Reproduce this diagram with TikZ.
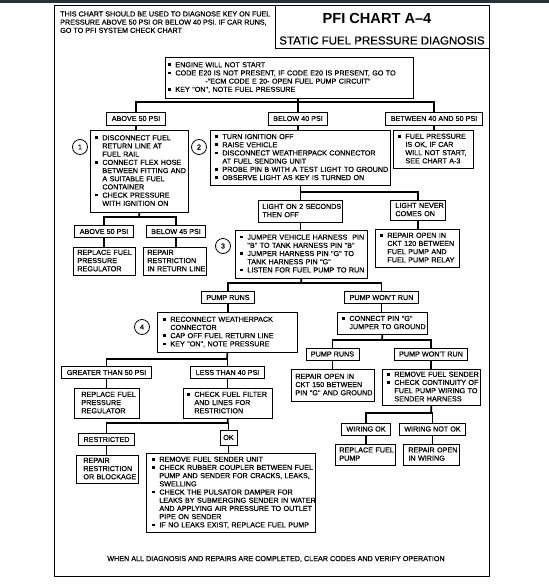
\documentclass[tikz,border=0pt]{standalone}
\usepackage{fontspec}
\setmainfont{Liberation Sans}
\newfontfamily\scan{Liberation Sans}[FakeBold=0.5]
\newcommand\fsz{\scan\fontsize{7.2}{8.2}\selectfont}
\newcommand\bul{\makebox[7pt][l]{\raisebox{1.2pt}{\rule{2.6pt}{2.6pt}}}}
\newcommand\indt{\hspace*{7pt}}
\newcommand\tbl[1]{\begin{tabular}{@{}l@{}}#1\end{tabular}}
\definecolor{band}{RGB}{40,48,58}
\begin{document}
\begin{tikzpicture}[x=1pt,y=-1pt,
  conn/.style={line width=1.7pt},
  tbox/.style={draw, line width=0.8pt, anchor=north west, inner ysep=0pt, align=left, font=\fsz},
  lbl/.style={draw, line width=0.8pt, inner xsep=5pt, inner ysep=0pt, minimum height=12pt, font=\fsz},
  num/.style={draw, circle, line width=0.8pt, minimum size=15pt, inner sep=0pt, font=\fsz}]
\useasboundingbox (0,0) rectangle (549,584);
\fill[white] (0,0) rectangle (549,584);
\fill[band] (0,0) rectangle (549,2.5);
% frame and title
\draw[line width=0.9pt] (54,5) rectangle (489,576);
\node[draw, line width=0.8pt, anchor=north west, minimum width=214pt, minimum height=43pt, inner sep=0pt] (tbox) at (275,5) {};
\node[font=\bfseries\fontsize{14.6}{16}\selectfont, inner sep=0pt] (title) at (377,18) {PFI CHART A--4};
\node[font=\scan\fontsize{11.5}{13}\selectfont, inner sep=0pt] (sub) at (382,40.5) {STATIC FUEL PRESSURE DIAGNOSIS};
\node[anchor=north west, inner sep=0pt, font=\fsz] (hdr) at (60,10.5) {\tbl{THIS CHART SHOULD BE USED TO DIAGNOSE KEY ON FUEL\\PRESSURE ABOVE 50 PSI OR BELOW 40 PSI. IF CAR RUNS,\\GO TO PFI SYSTEM CHECK CHART}};
% top box
\node[tbox, inner xsep=3pt, text width=242pt, minimum height=41pt] (top) at (165,57) {\tbl{\bul ENGINE WILL NOT START\\\bul CODE E20 IS NOT PRESENT, IF CODE E20 IS PRESENT, GO TO\\\hspace*{37pt}-"ECM CODE E 20- OPEN FUEL PUMP CIRCUIT"\\\bul KEY "ON", NOTE FUEL PRESSURE}};
% first row labels
\node[lbl, minimum height=13pt] (a50) at (136,118.5) {ABOVE 50 PSI};
\node[lbl, minimum height=13pt] (bel40) at (298,118.5) {BELOW 40 PSI};
\node[lbl, minimum height=13pt] (b4050) at (434,118.5) {BETWEEN 40 AND 50 PSI};
\coordinate (j1) at (298,102);
\draw[conn] (top.south -| j1) -- (bel40.north);
\draw[conn] (a50.north) |- (j1) -| (b4050.north);
% second row
\node[tbox, inner xsep=5pt, text width=88pt, minimum height=82pt] (box1) at (90,130) {\tbl{\bul DISCONNECT FUEL\\\indt RETURN LINE AT\\\indt FUEL RAIL\\\bul CONNECT FLEX HOSE\\\indt BETWEEN FITTING AND\\\indt A SUITABLE FUEL\\\indt CONTAINER\\\bul CHECK PRESSURE\\\indt WITH IGNITION ON}};
\node[num] (c1) at (80,147) {1};
\node[tbox, inner xsep=5pt, text width=170pt, minimum height=55pt] (box2) at (210,130) {\tbl{\bul TURN IGNITION OFF\\\bul RAISE VEHICLE\\\bul DISCONNECT WEATHERPACK CONNECTOR\\\indt AT FUEL SENDING UNIT\\\bul PROBE PIN B WITH A TEST LIGHT TO GROUND\\\bul OBSERVE LIGHT AS KEY IS TURNED ON}};
\node[num] (c2) at (199,147) {2};
\node[tbox, inner xsep=5pt, text width=70pt, minimum height=38pt] (okb) at (393,130) {\tbl{\bul FUEL PRESSURE\\\indt IS OK, IF CAR\\\indt WILL NOT START,\\\indt SEE CHART A-3}};
\draw[conn] (a50.south) -- (a50.south |- box1.north);
\draw[conn] (bel40.south) -- (bel40.south |- box2.north);
\draw[conn] (b4050.south) -- (b4050.south |- okb.north);
% under box1
\node[lbl] (ar50) at (104,231.5) {ABOVE 50 PSI};
\node[lbl] (bl45) at (176,231.5) {BELOW 45 PSI};
\coordinate (j2) at (139,217);
\draw[conn] (box1.south) -- (j2);
\draw[conn] (ar50.north) |- (j2) -| (bl45.north);
\node[tbox, inner xsep=4pt, text width=54pt, minimum height=28pt] (rep1) at (73,247) {\tbl{REPLACE FUEL\\PRESSURE\\REGULATOR}};
\node[tbox, inner xsep=4pt, text width=55pt, minimum height=28pt] (rep2) at (143,247) {\tbl{REPAIR\\RESTRICTION\\IN RETURN LINE}};
\draw[conn] (ar50.south) -- (ar50.south |- rep1.north);
\draw[conn] (bl45.south) -- (bl45.south |- rep2.north);
% under box2
\node[tbox, inner xsep=4pt, text width=76pt, minimum height=22pt] (lon2) at (258,200) {\tbl{LIGHT ON 2 SECONDS\\THEN OFF}};
\node[tbox, inner xsep=5pt, text width=45pt, minimum height=20pt] (lnev) at (390,200) {\tbl{LIGHT NEVER\\COMES ON}};
\coordinate (j3) at (300,192);
\draw[conn] (box2.south) -- (box2.south |- lon2.north);
\draw[conn] (j3) -| (lnev.north);
\node[tbox, inner xsep=5pt, text width=122pt, minimum height=48pt] (box3) at (235,230) {\tbl{\bul JUMPER VEHICLE HARNESS\ \ PIN\\\indt "B" TO TANK HARNESS PIN "B"\\\bul JUMPER HARNESS PIN "G" TO\\\indt TANK HARNESS PIN "G"\\\bul LISTEN FOR FUEL PUMP TO RUN}};
\node[num] (c3) at (223,246) {3};
\node[tbox, inner xsep=5pt, text width=74pt, minimum height=38pt] (rp120) at (375,229) {\tbl{\bul REPAIR OPEN IN\\\indt CKT 120 BETWEEN\\\indt FUEL PUMP AND\\\indt FUEL PUMP RELAY}};
\draw[conn] (lon2.south) -- (lon2.south |- box3.north);
\draw[conn] (lnev.south) -- (lnev.south |- rp120.north);
% under box3
\node[lbl] (pr1) at (228,297.5) {PUMP RUNS};
\node[lbl] (pwr1) at (381.5,297.5) {PUMP WON'T RUN};
\coordinate (j4) at (301,283);
\draw[conn] (box3.south) -- (j4);
\draw[conn] (pr1.north) |- (j4) -| (pwr1.north);
\node[tbox, inner xsep=6pt, text width=128pt, minimum height=40pt] (box4) at (157,312) {\tbl{\bul RECONNECT WEATHERPACK\\\indt CONNECTOR\\\bul CAP OFF FUEL RETURN LINE\\\bul KEY "ON", NOTE PRESSURE}};
\node[num] (c4) at (142,327) {4};
\node[tbox, inner xsep=5pt, text width=80pt, minimum height=22pt] (cpg) at (337,312) {\tbl{\bul CONNECT PIN "G"\\\indt JUMPER TO GROUND}};
\draw[conn] (pr1.south) -- (pr1.south |- box4.north);
\draw[conn] (pwr1.south) -- (pwr1.south |- cpg.north);
% under cpg
\node[lbl] (pr2) at (332.5,354) {PUMP RUNS};
\node[lbl] (pwr2) at (431,354) {PUMP WON'T RUN};
\coordinate (j5) at (382,340);
\draw[conn] (cpg.south) -- (j5);
\draw[conn] (pr2.north) |- (j5) -| (pwr2.north);
\node[tbox, inner xsep=4pt, text width=75pt, minimum height=32pt] (rp150) at (291,369) {\tbl{REPAIR OPEN IN\\CKT 150 BETWEEN\\PIN "G" AND GROUND}};
\node[tbox, inner xsep=5pt, text width=88pt, minimum height=36pt] (rfs) at (382,369) {\tbl{\bul REMOVE FUEL SENDER\\\bul CHECK CONTINUITY OF\\\indt FUEL PUMP WIRING TO\\\indt SENDER HARNESS}};
\draw[conn] (pr2.south) -- (pr2.south |- rp150.north);
\draw[conn] (pwr2.south) -- (pwr2.south |- rfs.north);
% under rfs
\node[lbl] (wok) at (366,429) {WIRING OK};
\node[lbl] (wnok) at (432.5,429) {WIRING NOT OK};
\coordinate (j8) at (431,413);
\draw[conn] (rfs.south) -- (j8);
\draw[conn] (wok.north) |- (j8) -| (wnok.north);
\node[tbox, inner xsep=4pt, text width=52pt, minimum height=21pt] (rfp) at (335,444) {\tbl{REPLACE FUEL\\PUMP}};
\node[tbox, inner xsep=5pt, text width=46pt, minimum height=21pt] (rwir) at (403,444) {\tbl{REPAIR OPEN\\IN WIRING}};
\draw[conn] (wok.south) -- (wok.south |- rfp.north);
\draw[conn] (wnok.south) -- (wnok.south |- rwir.north);
% under box4
\node[lbl] (gt50) at (106.5,372.5) {GREATER THAN 50 PSI};
\node[lbl] (lt40) at (227.5,372.5) {LESS THAN 40 PSI};
\coordinate (j6) at (227,359);
\draw[conn] (box4.south) -- (j6);
\draw[conn] (gt50.north) |- (j6) -| (lt40.north);
\node[tbox, inner xsep=7pt, text width=51pt, minimum height=30pt] (rep3) at (74,388) {\tbl{REPLACE FUEL\\PRESSURE\\REGULATOR}};
\node[tbox, inner xsep=4pt, text width=81pt, minimum height=30pt] (chk) at (183,388) {\tbl{\bul CHECK FUEL FILTER\\\indt AND LINES FOR\\\indt RESTRICTION}};
\draw[conn] (gt50.south) -- (gt50.south |- rep3.north);
\draw[conn] (lt40.south) -- (lt40.south |- chk.north);
% under chk
\node[lbl] (restr) at (106.5,439.5) {RESTRICTED};
\node[lbl, minimum width=17pt, minimum height=15pt, inner xsep=0pt] (ok) at (228.5,437.5) {OK};
\coordinate (j7) at (227.5,423);
\draw[conn] (chk.south) -- (j7);
\draw[conn] (restr.north) |- (j7) -| (ok.north);
\node[tbox, inner xsep=7pt, text width=48pt, minimum height=28pt] (rrb) at (76,455) {\tbl{REPAIR\\RESTRICTION\\OR BLOCKAGE}};
\node[tbox, inner xsep=6pt, text width=157pt, minimum height=79pt] (big) at (146,453) {\tbl{\bul REMOVE FUEL SENDER UNIT\\\bul CHECK RUBBER COUPLER BETWEEN FUEL\\\indt PUMP AND SENDER FOR CRACKS, LEAKS,\\\indt SWELLING\\\bul CHECK THE PULSATOR DAMPER FOR\\\indt LEAKS BY SUBMERGING SENDER IN WATER\\\indt AND APPLYING AIR PRESSURE TO OUTLET\\\indt PIPE ON SENDER\\\bul IF NO LEAKS EXIST, REPLACE FUEL PUMP}};
\draw[conn] (restr.south) -- (restr.south |- rrb.north);
\draw[conn] (ok.south) -- (ok.south |- big.north);
% footer
\node[font=\fsz, inner sep=0pt] (foot) at (276,559) {WHEN ALL DIAGNOSIS AND REPAIRS ARE COMPLETED, CLEAR CODES AND VERIFY OPERATION};
\end{tikzpicture}
\end{document}
